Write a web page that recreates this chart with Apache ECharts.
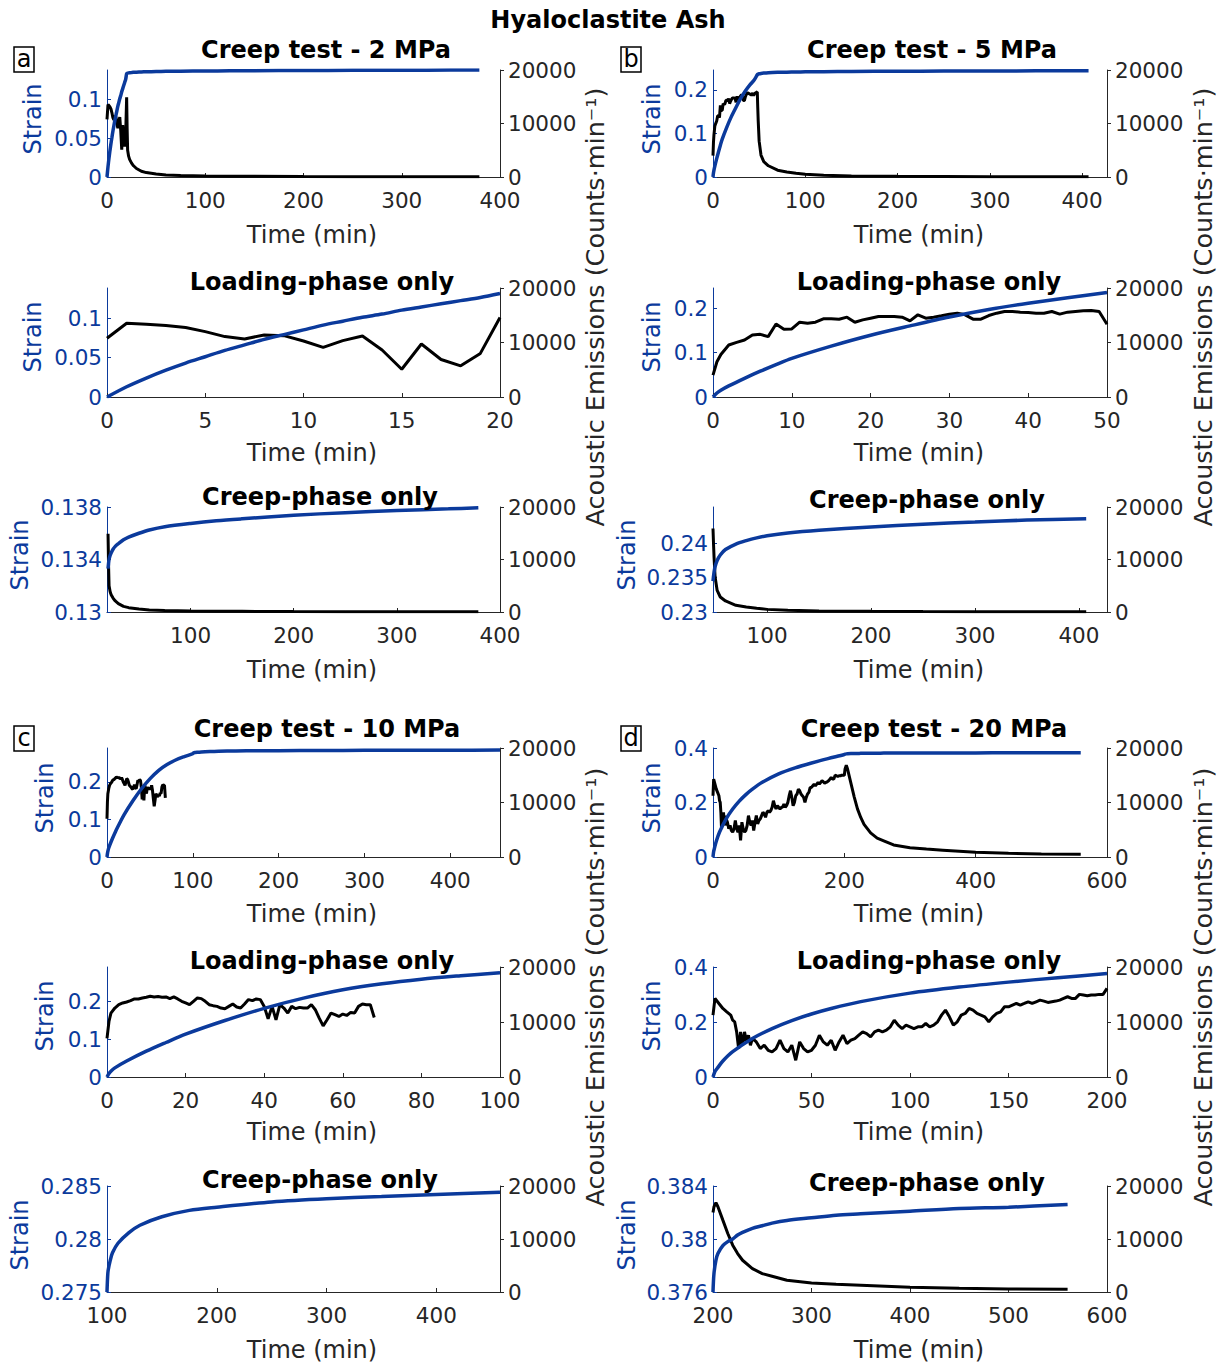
<!DOCTYPE html>
<html><head><meta charset="utf-8">
<script src="https://cdn.jsdelivr.net/npm/echarts@6/dist/echarts.min.js"></script>
<style>html,body{margin:0;padding:0;background:#fff}#c{width:1225px;height:1364px}</style>
</head><body><div id="c"></div><script>
// ---------- DATA ----------
// (a) 2 MPa
const a_load_t = [0,1,2,3,4,5,6,7,8,9,10,11,12,13,14,15,16,17,18,19,20];
const a_load_strain = [0,0.013,0.024,0.034,0.043,0.051,0.059,0.066,0.073,0.079,0.085,0.091,0.096,0.101,0.105,0.110,0.114,0.118,0.122,0.126,0.131];
const a_load_ae = [10770,13540,13350,13100,12740,12000,11080,10650,11380,11260,10280,9110,10340,11200,8620,5100,9720,6890,5720,8000,14580];
const a_creep_t = [20,20.5,21,22,23,25,27,30,35,40,50,60,75,100,125,150,200,250,300,350,379];
const a_creep_strain = [0.1333,0.1337,0.1340,0.1343,0.1345,0.1348,0.1350,0.1352,0.1355,0.1357,0.1360,0.13625,0.13650,0.13675,0.13695,0.1371,0.13737,0.13757,0.13773,0.13786,0.13794];
const a_creep_ae = [14900,9000,5000,3900,3300,2600,2100,1590,1080,825,570,380,280,190,150,127,80,60,50,40,30];

// (b) 5 MPa
const b_load_strain_t = [0,0.5,1,2,4,6,8,10,15,20,25,30,35,40,45,50];
const b_load_strain = [0,0.009,0.0153,0.025,0.042,0.058,0.073,0.087,0.1145,0.139,0.160,0.180,0.197,0.211,0.2235,0.235];
const b_load_ae_t = [0,0.5,1,2,3,4,5,6,7,8,9,10,11,12,13,14,15,16,17,18,19,20,21,22,23,24,25,26,27,28,29,30,31,32,33,34,35,36,37,38,39,40,41,42,43,44,45,46,47,48,49,50];
const b_load_ae = [4000,6460,7800,9540,10030,10460,11380,11500,11080,13400,12430,12490,13720,13540,13720,14340,14340,14280,14650,13720,14150,14460,14770,14770,14770,14650,13970,15080,14460,14650,14900,15200,15380,15080,14280,14280,14950,15380,15690,15690,15570,15500,15380,15380,15690,15200,15570,15690,15810,15870,15690,13350];
const b_creep_t = [48,48.5,49,50,52,55,60,70,80,90,100,120,150,200,250,300,350,407];
const b_creep_strain = [0.2345,0.2352,0.2358,0.2366,0.2375,0.2383,0.2391,0.2399,0.2404,0.2408,0.2411,0.2415,0.2419,0.2424,0.2428,0.2431,0.2434,0.2436];
const b_creep_ae = [15900,13000,10500,6700,4100,2860,2100,1270,950,700,500,320,190,130,90,60,50,50];

// (c) 10 MPa
const c_load_strain_t = [0,0.5,1,2,5,10,15,20,30,40,50,60,70,80,90,100];
const c_load_strain = [0,0.009,0.015,0.024,0.042,0.068,0.091,0.113,0.149,0.181,0.208,0.230,0.246,0.258,0.267,0.275];
const c_load_ae_t = [0,0.5,1,2,3,4,5,6,7,8,9,10,11,12,13,14,15,16,17,18,19,20,21,22,23,24,25,26,27,28,29,30,31,32,33,34,35,36,37,38,39,40,41,42,43,44,45,46,47,48,49,50,51,52,53,54,55,56,57,58,59,60,61,62,63,64,65,66,67,68];
const c_load_ae = [7030,10090,11620,12540,13150,13460,13640,13880,14190,14190,14370,14500,14680,14560,14620,14500,14560,14250,14560,14190,13760,13460,13150,13760,14370,14250,13760,13150,12970,12840,12540,12420,12840,13270,12720,12540,13270,14070,13880,14190,14070,12840,10580,12840,10400,13150,12540,11620,12840,12420,12660,12540,12540,13150,12230,10700,9300,10400,11620,11320,11010,11440,11190,11740,11620,12840,13270,13150,13150,10830];
const c_creep_t = [100,100.5,101,103,105,110,120,130,150,175,200,250,300,350,400,458];
const c_creep_strain = [0.275,0.2763,0.2770,0.2780,0.2787,0.2796,0.2806,0.2813,0.2821,0.2827,0.2830,0.2835,0.2838,0.2840,0.2842,0.2844];

// (d) 20 MPa
const d_load_strain_t = [0,1,2,5,10,20,30,40,50,60,75,100,125,150,175,200];
const d_load_strain = [0,0.02,0.030,0.058,0.092,0.140,0.176,0.205,0.229,0.249,0.274,0.305,0.327,0.345,0.361,0.376];
const d_load_ae_t = [0,1,3,5,7,9,10,11,12,13,14,15,16,17,18,19,20,22,24,26,28,30,32,34,36,38,40,42,44,46,48,50,52,54,56,58,60,62,64,66,68,70,72,74,76,78,80,82,84,86,88,90,92,94,96,98,100,102,104,106,108,110,112,114,116,118,120,122,124,126,128,130,132,134,136,138,140,142,144,146,148,150,152,154,156,158,160,162,164,166,168,170,172,174,176,178,180,182,184,186,188,190,192,194,196,198,200];
const d_load_ae = [11250,14290,13370,12460,11850,11250,10330,10030,8200,5170,8200,5780,8200,6380,7600,5780,7000,6380,5170,5780,4860,4560,5170,6690,5170,4560,5780,3040,6380,5170,4560,4860,5780,7600,6380,5780,6690,4860,6380,7600,6080,6690,6990,7600,8200,7900,7290,8200,8510,8200,8510,9120,10330,9420,8810,9420,9120,8810,9120,9120,9730,9120,9420,10030,11250,12160,10940,9420,10030,11250,11550,12460,12160,11550,11250,10940,10030,10940,11550,11850,12770,12770,13070,13370,13070,13370,13680,13370,13680,13980,13800,13560,13680,13800,13980,14290,14590,14290,14290,15020,14900,14770,14900,14900,15020,15020,16110];
const d_creep_t = [200,201,203,205,210,215,220,225,230,240,250,260,275,300,325,350,400,450,500,560];
const d_creep_strain = [0.376,0.3774,0.3784,0.3789,0.3795,0.3798,0.3800,0.3803,0.3805,0.3808,0.3810,0.3812,0.3814,0.3816,0.3818,0.3819,0.3821,0.3823,0.3824,0.3826];
const d_creep_ae = [15000,16090,16850,16090,13560,11040,8830,7260,5990,4420,3470,2970,2210,1700,1450,1260,880,690,570,500];

// tick values
const ae_ticks = [0,10000,20000];
const ticks_time_400 = [0,100,200,300,400];
const ticks_time_creep400 = [100,200,300,400];
const ticks_a_load = [0,5,10,15,20];
const ticks_b_load = [0,10,20,30,40,50];
const ticks_c_load = [0,20,40,60,80,100];
const ticks_d_full = [0,200,400,600];
const ticks_d_load = [0,50,100,150,200];
const ticks_d_creep = [200,300,400,500,600];
const strain_ticks_a = [0,0.05,0.1];
const strain_ticks_a_creep = [0.13,0.134,0.138];
const strain_ticks_bc = [0,0.1,0.2];
const strain_ticks_b_creep = [0.23,0.235,0.24];
const strain_ticks_c_creep = [0.275,0.28,0.285];
const strain_ticks_d = [0,0.2,0.4];
const strain_ticks_d_creep = [0.376,0.38,0.384];

// ---------- helpers ----------
const BLUE = '#0b3a9c', INK = '#262626', FONT = 'DejaVu Sans';
function pairs(t, v) { return t.map((x, i) => [x, v[i]]); }
function join(tl, vl, tc, vc) {
  const out = [];
  tl.forEach((x, i) => { if (x < tc[0]) out.push([x, vl[i]]); });
  tc.forEach((x, i) => out.push([x, vc[i]]));
  return out;
}
const fmt = v => String(parseFloat((+v).toFixed(4)));

const panels = [
  // a
  {l:107,t:70,w:393,h:107, x:[0,400], xt:ticks_time_400, y:[0,0.138], yt:strain_ticks_a,
   s:join(a_load_t,a_load_strain,a_creep_t,a_creep_strain), ae:join(a_load_t,a_load_ae,a_creep_t,a_creep_ae)},
  {l:107,t:288,w:393,h:109, x:[0,20], xt:ticks_a_load, y:[0,0.138], yt:strain_ticks_a,
   s:pairs(a_load_t,a_load_strain), ae:pairs(a_load_t,a_load_ae)},
  {l:107,t:507,w:393,h:105, x:[19,400], xt:ticks_time_creep400, y:[0.13,0.138], yt:strain_ticks_a_creep,
   s:pairs(a_creep_t,a_creep_strain), ae:pairs(a_creep_t,a_creep_ae)},
  // b
  {l:713,t:70,w:394,h:107, x:[0,427], xt:ticks_time_400, y:[0,0.2453], yt:strain_ticks_bc,
   s:join(b_load_strain_t,b_load_strain,b_creep_t,b_creep_strain), ae:join(b_load_ae_t,b_load_ae,b_creep_t,b_creep_ae)},
  {l:713,t:288,w:394,h:109, x:[0,50], xt:ticks_b_load, y:[0,0.2453], yt:strain_ticks_bc,
   s:pairs(b_load_strain_t,b_load_strain), ae:pairs(b_load_ae_t,b_load_ae)},
  {l:713,t:507,w:394,h:105, x:[48,427], xt:ticks_time_creep400, y:[0.23,0.2453], yt:strain_ticks_b_creep,
   s:pairs(b_creep_t,b_creep_strain), ae:pairs(b_creep_t,b_creep_ae)},
  // c
  {l:107,t:748,w:393,h:109, x:[0,458], xt:ticks_time_400, y:[0,0.29], yt:strain_ticks_bc,
   s:join(c_load_strain_t,c_load_strain,c_creep_t,c_creep_strain), ae:pairs(c_load_ae_t,c_load_ae)},
  {l:107,t:967,w:393,h:110, x:[0,100], xt:ticks_c_load, y:[0,0.29], yt:strain_ticks_bc,
   s:pairs(c_load_strain_t,c_load_strain), ae:pairs(c_load_ae_t,c_load_ae)},
  {l:107,t:1186,w:393,h:106, x:[100,458], xt:ticks_time_creep400, y:[0.275,0.285], yt:strain_ticks_c_creep,
   s:pairs(c_creep_t,c_creep_strain), ae:null},
  // d
  {l:713,t:748,w:394,h:109, x:[0,600], xt:ticks_d_full, y:[0,0.4], yt:strain_ticks_d,
   s:join(d_load_strain_t,d_load_strain,d_creep_t,d_creep_strain), ae:join(d_load_ae_t,d_load_ae,d_creep_t,d_creep_ae)},
  {l:713,t:967,w:394,h:110, x:[0,200], xt:ticks_d_load, y:[0,0.4], yt:strain_ticks_d,
   s:pairs(d_load_strain_t,d_load_strain), ae:pairs(d_load_ae_t,d_load_ae)},
  {l:713,t:1186,w:394,h:106, x:[200,600], xt:ticks_d_creep, y:[0.376,0.384], yt:strain_ticks_d_creep,
   s:pairs(d_creep_t,d_creep_strain), ae:pairs(d_creep_t,d_creep_ae)}
];

const TICK_FS = 21.5;
const grid = [], xAxis = [], yAxis = [], series = [];
panels.forEach((p, i) => {
  grid.push({left:p.l, top:p.t, width:p.w, height:p.h, containLabel:false, outerBoundsMode:'none'});
  xAxis.push({type:'value', gridIndex:i, min:p.x[0], max:p.x[1], position:'bottom',
    axisLine:{show:true, onZero:false, lineStyle:{color:INK, width:1}},
    axisTick:{show:true, inside:true, length:4, customValues:p.xt, lineStyle:{color:INK}},
    axisLabel:{customValues:p.xt, fontFamily:FONT, fontSize:TICK_FS, color:INK, margin:12, formatter:fmt},
    splitLine:{show:false}});
  yAxis.push({type:'value', gridIndex:i, min:p.y[0], max:p.y[1], position:'left',
    axisLine:{show:true, onZero:false, lineStyle:{color:BLUE, width:1}},
    axisTick:{show:true, inside:true, length:4, customValues:p.yt, lineStyle:{color:BLUE}},
    axisLabel:{customValues:p.yt, fontFamily:FONT, fontSize:TICK_FS, color:BLUE, margin:5, formatter:fmt},
    splitLine:{show:false}});
  yAxis.push({type:'value', gridIndex:i, min:0, max:20000, position:'right',
    axisLine:{show:true, onZero:false, lineStyle:{color:INK, width:1}},
    axisTick:{show:true, inside:false, length:4, customValues:ae_ticks, lineStyle:{color:INK}},
    axisLabel:{customValues:ae_ticks, fontFamily:FONT, fontSize:TICK_FS, color:INK, margin:8, formatter:fmt},
    splitLine:{show:false}});
  if (p.ae) series.push({type:'line', name:'AE', xAxisIndex:i, yAxisIndex:2*i+1, data:p.ae,
    showSymbol:false, animation:false, z:2, lineStyle:{color:'#000', width:3}, itemStyle:{color:'#000'}});
  series.push({type:'line', name:'Strain', xAxisIndex:i, yAxisIndex:2*i, data:p.s, smooth:0.3,
    showSymbol:false, animation:false, z:3, lineStyle:{color:BLUE, width:3.5}, itemStyle:{color:BLUE}});
});

const titles = [
  {text:'Hyaloclastite Ash', x:608, y:20},
  {text:'Creep test - 2 MPa', x:326, y:50}, {text:'Loading-phase only', x:322, y:282}, {text:'Creep-phase only', x:320, y:497},
  {text:'Creep test - 5 MPa', x:932, y:50}, {text:'Loading-phase only', x:929, y:282}, {text:'Creep-phase only', x:927, y:500},
  {text:'Creep test - 10 MPa', x:327, y:729}, {text:'Loading-phase only', x:322, y:961}, {text:'Creep-phase only', x:320, y:1180},
  {text:'Creep test - 20 MPa', x:934, y:729}, {text:'Loading-phase only', x:929, y:961}, {text:'Creep-phase only', x:927, y:1183}
].map(t => ({text:t.text, left:t.x, top:t.y, textAlign:'center', textVerticalAlign:'middle', padding:0,
  textStyle:{fontFamily:FONT, fontSize:24, fontWeight:'bold', color:'#000'}}));

const graphic = [];
function txt(s, x, y, rot, color, size) {
  graphic.push({type:'text', x:x, y:y, rotation:rot, style:{text:s, x:0, y:0, align:'center', verticalAlign:'middle',
    fill:color, font:`${size}px "${FONT}"`}});
}
// Time labels
[[312,235],[312,453],[312,670],[919,235],[919,453],[919,670],[312,914],[312,1132],[312,1350],[919,914],[919,1132],[919,1350]]
  .forEach(([x,y]) => txt('Time (min)', x, y, 0, INK, 24));
// Strain labels
[[33,119],[33,337],[20,555],[652,119],[652,337],[627,555],[45,798],[45,1016],[20,1235],[652,798],[652,1016],[627,1235]]
  .forEach(([x,y]) => txt('Strain', x, y, Math.PI/2, BLUE, 24));
// AE labels
[[595,307],[595,987],[1203,307],[1203,987]].forEach(([x,y]) => txt('Acoustic Emissions (Counts·min⁻¹)', x, y, Math.PI/2, INK, 25.5));
// Panel letters
[['a',24,59],['b',631,59],['c',24,738],['d',631,738]].forEach(([s,x,y]) => {
  graphic.push({type:'rect', shape:{x:x-10, y:y-12, width:20, height:25}, style:{fill:'#fff', stroke:'#000', lineWidth:1.5}});
  txt(s, x, y, 0, '#000', 24);
});

const chart = echarts.init(document.getElementById('c'), null, {renderer:'svg', width:1225, height:1364});
chart.setOption({backgroundColor:'#fff', animation:false, title:titles, grid, xAxis, yAxis, series, graphic});
</script></body></html>
